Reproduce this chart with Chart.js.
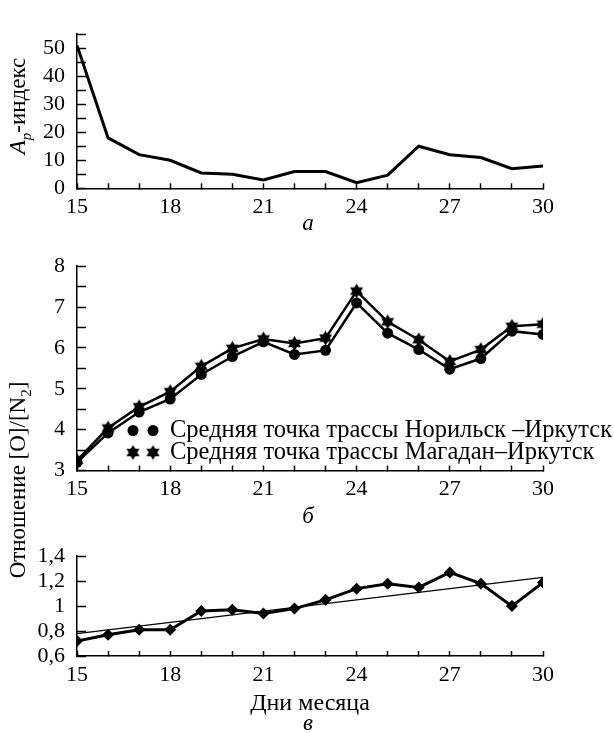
<!DOCTYPE html>
<html lang="ru">
<head>
<meta charset="UTF-8">
<title>Ap-индекс и отношение [O]/[N2]</title>
<script src="https://cdn.jsdelivr.net/npm/chart.js@4.4.1/dist/chart.umd.min.js"></script>
<style>
    body {
        margin: 0;
        background: #fff;
        width: 614px;
        height: 733px;
        overflow: hidden;
        position: relative;
        font-family: "Liberation Serif", "DejaVu Serif", serif;
        color: #000;
    }
    .panel { position: absolute; left: 0; width: 614px; }
    .ytitle {
        position: absolute;
        white-space: nowrap;
        font-size: 23px;
        line-height: 1;
        transform: translate(-50%, -50%) rotate(-90deg);
    }
    .ytitle sub { font-size: 15px; }
    .letter {
        position: absolute;
        font-style: italic;
        font-size: 23px;
        line-height: 1;
        transform: translate(-50%, -50%);
    }
</style>
</head>
<body>
<div class="panel" style="top:0;height:232px"><canvas id="apChart"></canvas></div>
<div class="panel" style="top:232px;height:290px"><canvas id="ratioChart"></canvas></div>
<div class="panel" style="top:522px;height:211px"><canvas id="relChart"></canvas></div>

<div class="ytitle" style="left:20px;top:106px"><i>A</i><sub><i>p</i></sub>-индекс</div>
<div class="ytitle" style="left:20px;top:480px">Отношение [O]/[N<sub>2</sub>]</div>
<div class="letter" style="left:308px;top:222px">а</div>
<div class="letter" style="left:308px;top:515px">б</div>
<div class="letter" style="left:308px;top:722px">в</div>

<script>
// data
const days = [15, 16, 17, 18, 19, 20, 21, 22, 23, 24, 25, 26, 27, 28, 29, 30];
const apIndex = [51, 18, 12, 10, 5.5, 5, 3, 6, 6, 2, 4.7, 15, 12, 11, 7, 8];
const ratioNorilsk = [3.2, 3.92, 4.43, 4.75, 5.35, 5.79, 6.15, 5.84, 5.94, 7.1, 6.36, 5.96, 5.48, 5.74, 6.41, 6.33];
const ratioMagadan = [3.25, 4.04, 4.56, 4.93, 5.55, 5.99, 6.22, 6.11, 6.24, 7.39, 6.64, 6.2, 5.67, 5.96, 6.53, 6.58];
const ratioQuotient = [0.72, 0.77, 0.81, 0.81, 0.96, 0.97, 0.94, 0.98, 1.05, 1.14, 1.18, 1.15, 1.27, 1.18, 1.0, 1.19];
const trendDays = [15, 30];
const trendValues = [0.78, 1.23];
const legendLabels = ['Средняя точка трассы Норильск –Иркутск', 'Средняя точка трассы Магадан–Иркутск'];
const xTitle = 'Дни месяца';

const BLACK = '#000';
const FONT = '"Liberation Serif", "DejaVu Serif", serif';

function pts(xs, ys) {
    return xs.map((x, i) => ({ x: x, y: ys[i] }));
}

function makeStar(r) {
    const c = document.createElement('canvas');
    const s = Math.ceil(r * 2 + 2);
    c.width = c.height = s;
    const g = c.getContext('2d');
    g.fillStyle = BLACK;
    [-Math.PI / 2, Math.PI / 2].forEach(a0 => {
        g.beginPath();
        for (let k = 0; k < 3; k++) {
            const a = a0 + k * 2 * Math.PI / 3;
            g.lineTo(s / 2 + r * Math.cos(a), s / 2 + r * Math.sin(a));
        }
        g.closePath();
        g.fill();
    });
    return c;
}
const star = makeStar(7.5);

function xAxis(height, title) {
    return {
        type: 'linear',
        min: 15,
        max: 30,
        ticks: {
            stepSize: 1,
            autoSkip: false,
            maxRotation: 0,
            color: BLACK,
            padding: 11,
            font: { family: FONT, size: 22 },
            callback: v => ((v - 15) % 3 === 0 ? String(v) : '')
        },
        grid: { drawOnChartArea: false, tickLength: -5, tickColor: BLACK, tickWidth: 1.5 },
        border: { color: BLACK, width: 1.5 },
        title: title ? {
            display: true, text: title, color: BLACK,
            font: { family: FONT, size: 24 }, padding: { top: 0, bottom: 15 }
        } : { display: false },
        afterFit: s => { s.height = height; }
    };
}

function yAxis(min, max, step, label) {
    return {
        min: min,
        max: max,
        ticks: {
            stepSize: step,
            autoSkip: false,
            color: BLACK,
            padding: 21,
            font: { family: FONT, size: 22 },
            callback: label
        },
        grid: { drawOnChartArea: false, tickLength: -9, tickColor: BLACK, tickWidth: 1.5 },
        border: { color: BLACK, width: 1.5 },
        afterFit: s => { s.width = 77; }
    };
}

function baseOptions(top, scales) {
    return {
        responsive: true,
        maintainAspectRatio: false,
        animation: false,
        events: [],
        devicePixelRatio: 1,
        layout: { padding: { top: top, right: 71, left: 0, bottom: 0 } },
        scales: scales,
        plugins: { legend: { display: false }, tooltip: { enabled: false } }
    };
}

// legend with two markers per entry, drawn inside panel b
const pairLegend = {
    id: 'pairLegend',
    afterDatasetsDraw(chart) {
        const ctx = chart.ctx;
        const a = chart.chartArea;
        const rows = [a.bottom - 40, a.bottom - 18];
        ctx.save();
        ctx.fillStyle = BLACK;
        ctx.font = '24.5px ' + FONT;
        ctx.textBaseline = 'middle';
        chart.data.datasets.forEach((ds, i) => {
            const y = rows[i];
            [a.left + 56, a.left + 76].forEach(x => {
                if (ds.pointStyle === 'circle') {
                    ctx.beginPath();
                    ctx.arc(x, y, 5.5, 0, Math.PI * 2);
                    ctx.fill();
                } else {
                    ctx.drawImage(ds.pointStyle, x - ds.pointStyle.width / 2, y - ds.pointStyle.height / 2);
                }
            });
            ctx.fillText(ds.label, a.left + 93, y);
        });
        ctx.restore();
    }
};

new Chart(document.getElementById('apChart'), {
    type: 'line',
    data: {
        datasets: [{
            data: pts(days, apIndex),
            borderColor: BLACK,
            borderWidth: 3,
            pointRadius: 0,
            tension: 0
        }]
    },
    options: baseOptions(15, {
        x: xAxis(43.7),
        y: yAxis(0, 55, 5, v => (v % 10 === 0 ? String(v) : ''))
    })
});

new Chart(document.getElementById('ratioChart'), {
    type: 'line',
    data: {
        datasets: [
            {
                label: legendLabels[0],
                data: pts(days, ratioNorilsk),
                borderColor: BLACK,
                borderWidth: 2.5,
                pointStyle: 'circle',
                pointRadius: 5.5,
                pointBackgroundColor: BLACK,
                pointBorderWidth: 0
            },
            {
                label: legendLabels[1],
                data: pts(days, ratioMagadan),
                borderColor: BLACK,
                borderWidth: 2.5,
                pointStyle: star,
                pointRadius: 7,
                pointBackgroundColor: BLACK,
                pointBorderWidth: 0
            }
        ]
    },
    options: baseOptions(13.7, {
        x: xAxis(51.5),
        y: yAxis(3, 8, 0.5, v => (Number.isInteger(v) ? String(v) : ''))
    }),
    plugins: [pairLegend]
});

new Chart(document.getElementById('relChart'), {
    type: 'line',
    data: {
        datasets: [
            {
                data: pts(days, ratioQuotient),
                borderColor: BLACK,
                borderWidth: 3,
                pointStyle: 'rectRot',
                pointRadius: 6,
                pointBackgroundColor: BLACK,
                pointBorderWidth: 0
            },
            {
                data: pts(trendDays, trendValues),
                borderColor: BLACK,
                borderWidth: 1.2,
                pointRadius: 0
            }
        ]
    },
    options: baseOptions(8, {
        x: xAxis(77, xTitle),
        y: yAxis(0.6, 1.4, 0.2, v => {
            const r = Math.round(v * 10) / 10;
            return r === 1 ? '1' : r.toFixed(1).replace('.', ',');
        })
    })
});
</script>
</body>
</html>
